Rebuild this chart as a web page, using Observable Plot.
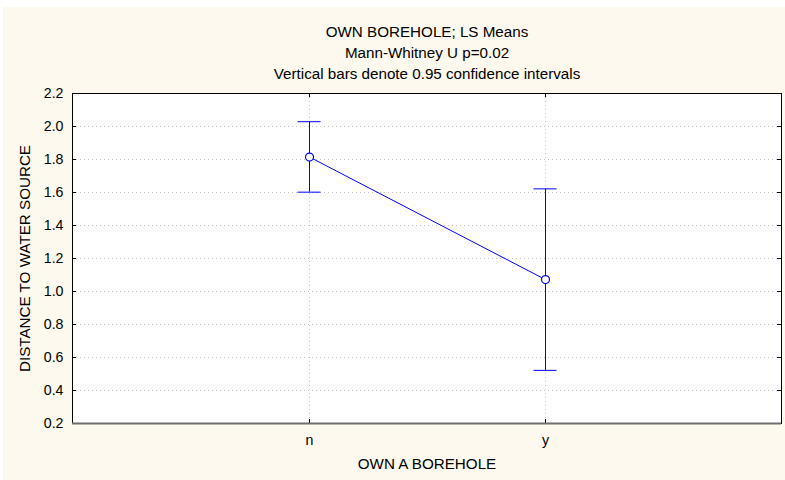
<!DOCTYPE html>
<html>
<head>
<meta charset="utf-8">
<script src="https://cdn.jsdelivr.net/npm/d3@7"></script>
<script src="https://cdn.jsdelivr.net/npm/@observablehq/plot@0.6"></script>
<style>
  html, body { margin: 0; padding: 0; background: #ffffff; }
  #wrap { position: absolute; left: 3px; top: 7px; width: 782px; height: 473px; background: rgb(253,249,238); }
  svg { display: block; }
</style>
</head>
<body>
<div id="wrap"></div>
<script>
// ---- data ----
const categories = ["n", "y"];
const means = [1.815, 1.072];
const lower = [1.602, 0.522];
const upper = [2.029, 1.622];
const yTicks = [0.2, 0.4, 0.6, 0.8, 1.0, 1.2, 1.4, 1.6, 1.8, 2.0, 2.2];
const titleLines = [
  "OWN BOREHOLE; LS Means",
  "Mann-Whitney U p=0.02",
  "Vertical bars denote 0.95 confidence intervals"
];
const xLabel = "OWN A BOREHOLE";
const yLabel = "DISTANCE TO WATER SOURCE";

const rows = categories.map((c, i) => ({cat: c, mean: means[i], lo: lower[i], hi: upper[i]}));

const W = 782, H = 473;
const mL = 69, mR = 4, mT = 86, mB = 57;
const pw = W - mL - mR, ph = H - mT - mB;
const blue = "#0000ff";
const font = "'Liberation Sans', Arial, sans-serif";
const fsTitle = 15.2, fsTick = 14.2;

const chart = Plot.plot({
  width: W,
  height: H,
  marginLeft: mL,
  marginRight: mR,
  marginTop: mT,
  marginBottom: mB,
  style: {background: "transparent", fontFamily: font, fontSize: "14px", color: "#000"},
  x: {type: "point", domain: categories, padding: 1, label: null},
  y: {domain: [0.2, 2.2], label: null},
  marks: [
    Plot.frame({fill: "#ffffff"}),
    // grids
    Plot.gridY(yTicks, {stroke: "#c4c4c4", strokeOpacity: 1, strokeDasharray: "1,3"}),
    Plot.gridX(categories, {stroke: "#c4c4c4", strokeOpacity: 1, strokeDasharray: "1,3"}),
    // axis tick labels
    Plot.axisY(yTicks, {tickSize: 0, tickPadding: 9, tickFormat: d => d.toFixed(1), fontSize: fsTick, label: null}),
    Plot.axisX(categories, {tickSize: 0, tickPadding: 11, fontSize: fsTick, label: null}),
    // inward ticks
    Plot.tickY(yTicks, {y: d => d, insetRight: pw - 4, stroke: "#000"}),
    Plot.tickY(yTicks, {y: d => d, insetLeft: pw - 4, stroke: "#000"}),
    Plot.tickX(categories, {x: d => d, insetTop: ph - 4, stroke: "#000"}),
    Plot.tickX(categories, {x: d => d, insetBottom: ph - 4, stroke: "#000"}),
    // frame
    Plot.frame({stroke: "#000", strokeWidth: 1}),
    Plot.ruleY([0.2], {stroke: "#6e6e6e", strokeWidth: 2}),
    // data
    Plot.line(rows, {x: "cat", y: "mean", stroke: blue, strokeWidth: 1}),
    Plot.ruleX(rows, {x: "cat", y1: "lo", y2: "hi", stroke: blue, strokeWidth: 1}),
    Plot.ruleY(rows, {x1: "cat", x2: "cat", y: "lo", insetLeft: -11.5, insetRight: -11.5, stroke: blue, strokeWidth: 1}),
    Plot.ruleY(rows, {x1: "cat", x2: "cat", y: "hi", insetLeft: -11.5, insetRight: -11.5, stroke: blue, strokeWidth: 1}),
    Plot.dot(rows, {x: "cat", y: "mean", r: 4, fill: "#fff", stroke: blue, strokeWidth: 1.2}),
    // titles
    Plot.text([titleLines[0]], {text: d => d, frameAnchor: "top", dy: -67, fontSize: fsTitle, fill: "#000"}),
    Plot.text([titleLines[1]], {text: d => d, frameAnchor: "top", dy: -46, fontSize: fsTitle, fill: "#000"}),
    Plot.text([titleLines[2]], {text: d => d, frameAnchor: "top", dy: -25, fontSize: fsTitle, fill: "#000"}),
    // axis titles
    Plot.text([xLabel], {text: d => d, frameAnchor: "bottom", dy: 45, fontSize: fsTitle, fill: "#000"}),
    Plot.text([yLabel], {text: d => d, frameAnchor: "left", textAnchor: "middle", dx: -47, rotate: -90, fontSize: fsTitle, fill: "#000"})
  ]
});
document.getElementById("wrap").appendChild(chart);
</script>
</body>
</html>
